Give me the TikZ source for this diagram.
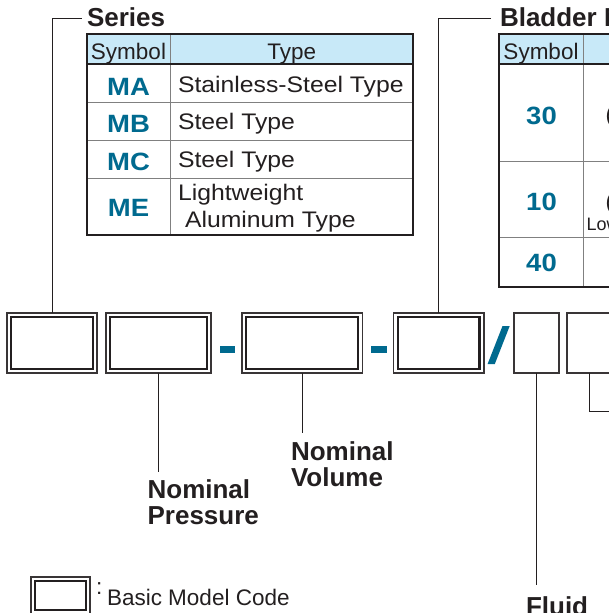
\documentclass[tikz,border=0pt]{standalone}
\usepackage{fontspec}
\setmainfont{Liberation Sans}
\newfontfamily\widefont[FakeStretch=1.1]{Liberation Sans}
\definecolor{symblue}{RGB}{0,106,143}
\definecolor{hdrblue}{RGB}{200,233,248}
\definecolor{darkline}{RGB}{35,31,32}
\definecolor{grayrule}{RGB}{128,128,128}
\tikzset{
  thinrule/.style={draw=grayrule, line width=1pt},
  thickrule/.style={draw=darkline, line width=2pt},
  conn/.style={draw=darkline, line width=1pt},
  txt/.style={inner sep=0pt, outer sep=0pt, font=\fontsize{22.5}{27}\selectfont, text=darkline},
  bodytxt/.style={inner sep=0pt, outer sep=0pt, font=\widefont\fontsize{22.5}{27}\selectfont, text=darkline},
  symtxt/.style={inner sep=0pt, outer sep=0pt, font=\widefont\bfseries\fontsize{25}{30}\selectfont, text=symblue},
  ttl/.style={inner sep=0pt, outer sep=0pt, font=\bfseries\fontsize{26}{31}\selectfont, text=darkline},
  codebox/.style={draw=darkline!90, line width=1.6pt, inner sep=0pt, outer sep=0pt, minimum height=60pt},
  inbox/.style={draw=darkline, line width=2.2pt},
  singlebox/.style={draw=darkline!90, line width=1.6pt, inner sep=0pt, outer sep=0pt, minimum height=60pt}
}
\begin{document}
\begin{tikzpicture}[x=1pt,y=-1pt]
\useasboundingbox[fill=white] (0,0) rectangle (609,613);

% ---------------- Series table ----------------
\fill[hdrblue] (87,34) rectangle (413,64);
\draw[thinrule] (170,34) -- (170,235);
\draw[thinrule] (87,102) -- (413,102);
\draw[thinrule] (87,140) -- (413,140);
\draw[thinrule] (87,178) -- (413,178);
\draw[thickrule] (87,64) -- (413,64);
\draw[thickrule] (87,34) rectangle (413,235);

\node[ttl, anchor=base west] (tser) at (87,26) {Series};
\node[txt, anchor=base] (hsym1) at (128.5,59.3) {Symbol};
\node[txt, anchor=base] (htype1) at (291.7,59.3) {Type};
\node[symtxt, anchor=base] (sMA) at (128.5,95.7) {MA};
\node[symtxt, anchor=base] (sMB) at (128.5,132.7) {MB};
\node[symtxt, anchor=base] (sMC) at (128.5,170.7) {MC};
\node[symtxt, anchor=base] (sME) at (128.5,216.7) {ME};
\node[bodytxt, anchor=base west] (tMA) at (178,92) {Stainless-Steel Type};
\node[bodytxt, anchor=base west] (tMB) at (178,129.3) {Steel Type};
\node[bodytxt, anchor=base west] (tMC) at (178,167.3) {Steel Type};
\node[bodytxt, anchor=base west] (tME1) at (178,200) {Lightweight};
\node[bodytxt, anchor=base west] (tME2) at (185,227) {Aluminum Type};

% ---------------- Bladder table ----------------
\fill[hdrblue] (499,34) rectangle (630,64);
\draw[thinrule] (583,34) -- (583,287);
\draw[thinrule] (499,161) -- (630,161);
\draw[thinrule] (499,237) -- (630,237);
\draw[thickrule] (499,64) -- (630,64);
\draw[thickrule] (630,34) -- (499,34) -- (499,287) -- (630,287);

\node[ttl, anchor=base west] (tbla) at (500,26) {Bladder Material};
\node[txt, anchor=base] (hsym2) at (541,59.3) {Symbol};
\node[symtxt, anchor=base] (s30) at (541.5,124) {30};
\node[symtxt, anchor=base] (s10) at (541.5,210.7) {10};
\node[symtxt, anchor=base] (s40) at (541.5,271.7) {40};
\node[txt, anchor=base west] (p30) at (605.5,122) {(};
\node[txt, anchor=base west] (p10) at (605.5,209) {(};
\node[inner sep=0pt, font=\fontsize{18}{21}\selectfont, text=darkline, anchor=base west] (low) at (586.5,230) {Low};

% ---------------- Model code boxes ----------------
\node[codebox, minimum width=90pt] (b1) at (52,343) {};
\node[codebox, minimum width=105.3pt] (b2) at (158.4,343) {};
\node[codebox, minimum width=120.5pt] (b3) at (302.2,343) {};
\node[codebox, minimum width=90.2pt] (b4) at (438.6,343) {};
\node[singlebox, minimum width=45pt] (b5) at (536.5,343) {};
\node[singlebox, minimum width=90pt] (b6) at (612,343) {};
\foreach \b in {b1,b2,b3,b4}{
  \draw[inbox] ([shift={(4.2,4.2)}]\b.north west) rectangle ([shift={(-4.2,-4.2)}]\b.south east);
}

% separators
\fill[symblue] (219.5,345.5) rectangle (235,352.5);
\fill[symblue] (370.5,345.5) rectangle (386.5,352.5);
\fill[symblue] (487.6,364) -- (494.8,364) -- (509.7,326) -- (502.5,326) -- cycle;

% ---------------- Connectors ----------------
\coordinate (cser) at (81.7,18.3);
\coordinate (cbla) at (491,18.3);
\draw[conn] (cser) -| (b1.north);
\draw[conn] (cbla) -| (b4.north);

\coordinate (e2) at (158.4,472);
\coordinate (e3) at (302.2,433);
\coordinate (e5) at (536.5,585);
\coordinate (k6) at (589.5,411);
\coordinate (k6end) at (640,411);
\draw[conn] (b2.south) -- (e2);
\draw[conn] (b3.south) -- (e3);
\draw[conn] (b5.south) -- (e5);
\draw[conn] (k6 |- b6.south) -- (k6) -- (k6end);

% ---------------- Labels ----------------
\node[ttl, anchor=base west] (nvol1) at (291,460.7) {Nominal};
\node[ttl, anchor=base west] (nvol2) at (291,486.7) {Volume};
\node[ttl, anchor=base west] (npre1) at (147.6,498.3) {Nominal};
\node[ttl, anchor=base west] (npre2) at (147.6,524.3) {Pressure};
\node[ttl, anchor=base west] (fluid) at (526,615.5) {Fluid};

% ---------------- Legend ----------------
\node[codebox, line width=1.3pt, minimum width=59pt, minimum height=37pt] (leg) at (60.5,595.5) {};
\draw[darkline, line width=1.5pt] ([shift={(4,4)}]leg.north west) rectangle ([shift={(-4,-4)}]leg.south east);
\node[txt, anchor=base west] (colon) at (96,594.5) {:};
\node[txt, anchor=base west] (legtxt) at (107,605) {Basic Model Code};
\end{tikzpicture}
\end{document}
